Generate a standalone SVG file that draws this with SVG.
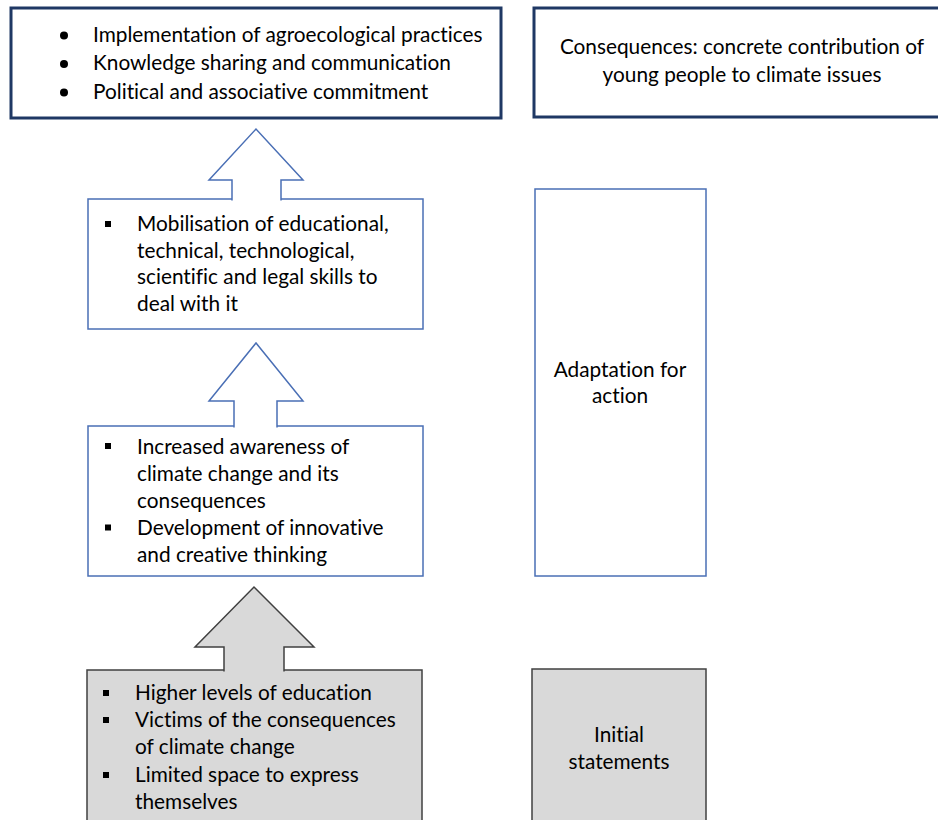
<svg xmlns="http://www.w3.org/2000/svg" width="938" height="820" viewBox="0 0 938 820">
<style>
text{font-family:Lato,"Open Sans","Liberation Sans",sans-serif;font-size:20.8px;fill:#000;font-variant-ligatures:none}
.c{text-anchor:middle}
.navy{fill:#fff;stroke:#1f3864;stroke-width:3}
.blue{fill:#fff;stroke:#4a6fb5;stroke-width:1.5}
.gray{fill:#d9d9d9;stroke:#404040;stroke-width:1.5}
.sq{fill:#000}
</style>
<rect width="938" height="820" fill="#fff"/>
<g id="outcomes">
<rect class="navy" x="11" y="8" width="490" height="110"/>
<circle cx="64" cy="35.5" r="4"/><text x="93" y="42">Implementation of agroecological practices</text>
<circle cx="64" cy="64" r="4"/><text x="93" y="70">Knowledge sharing and communication</text>
<circle cx="64" cy="92.5" r="4"/><text x="93" y="98.5">Political and associative commitment</text>
</g>
<g id="consequences">
<rect class="navy" x="534" y="8" width="420" height="109"/>
<text class="c" x="742" y="53.5">Consequences: concrete contribution of</text>
<text class="c" x="742" y="81.5">young people to climate issues</text>
</g>
<g id="skills">
<rect class="blue" x="88" y="199" width="335" height="130"/>
<rect class="sq" x="105" y="221" width="6" height="6"/>
<text x="137" y="231">Mobilisation of educational,</text>
<text x="137" y="257.5">technical, technological,</text>
<text x="137" y="284">scientific and legal skills to</text>
<text x="137" y="310.5">deal with it</text>
</g>
<g id="awareness">
<rect class="blue" x="88" y="426" width="335" height="150"/>
<rect class="sq" x="105" y="443" width="6" height="6"/>
<text x="137" y="453.5">Increased awareness of</text>
<text x="137" y="480.5">climate change and its</text>
<text x="137" y="507.5">consequences</text>
<rect class="sq" x="105" y="524.5" width="6" height="6"/>
<text x="137" y="534.5">Development of innovative</text>
<text x="137" y="561.5">and creative thinking</text>
</g>
<g id="initial">
<rect class="gray" x="87" y="670" width="335" height="170"/>
<rect class="sq" x="103" y="690" width="6" height="6"/>
<text x="135" y="699.5">Higher levels of education</text>
<rect class="sq" x="103" y="717" width="6" height="6"/>
<text x="135" y="727">Victims of the consequences</text>
<text x="135" y="754">of climate change</text>
<rect class="sq" x="103" y="772" width="6" height="6"/>
<text x="135" y="781.5">Limited space to express</text>
<text x="135" y="808.5">themselves</text>
</g>
<g id="adaptation">
<rect class="blue" x="535" y="189" width="171" height="387"/>
<text class="c" x="620" y="377">Adaptation for</text>
<text class="c" x="620" y="403">action</text>
</g>
<g id="statements">
<rect class="gray" x="532" y="669" width="174" height="170"/>
<text class="c" x="619" y="742">Initial</text>
<text class="c" x="619" y="768.5">statements</text>
</g>
<g id="connectors">
<path class="blue" d="M232,200.5 L232,180 L209,180 L256,129 L303,180 L281,180 L281,200.5"/>
<path class="blue" d="M234,427.5 L234,401 L209,401 L256,343 L303,401 L277,401 L277,427.5"/>
<path class="gray" d="M224,671.5 L224,647 L195,647 L254,587 L314,647 L284,647 L284,671.5"/>
</g>
</svg>
